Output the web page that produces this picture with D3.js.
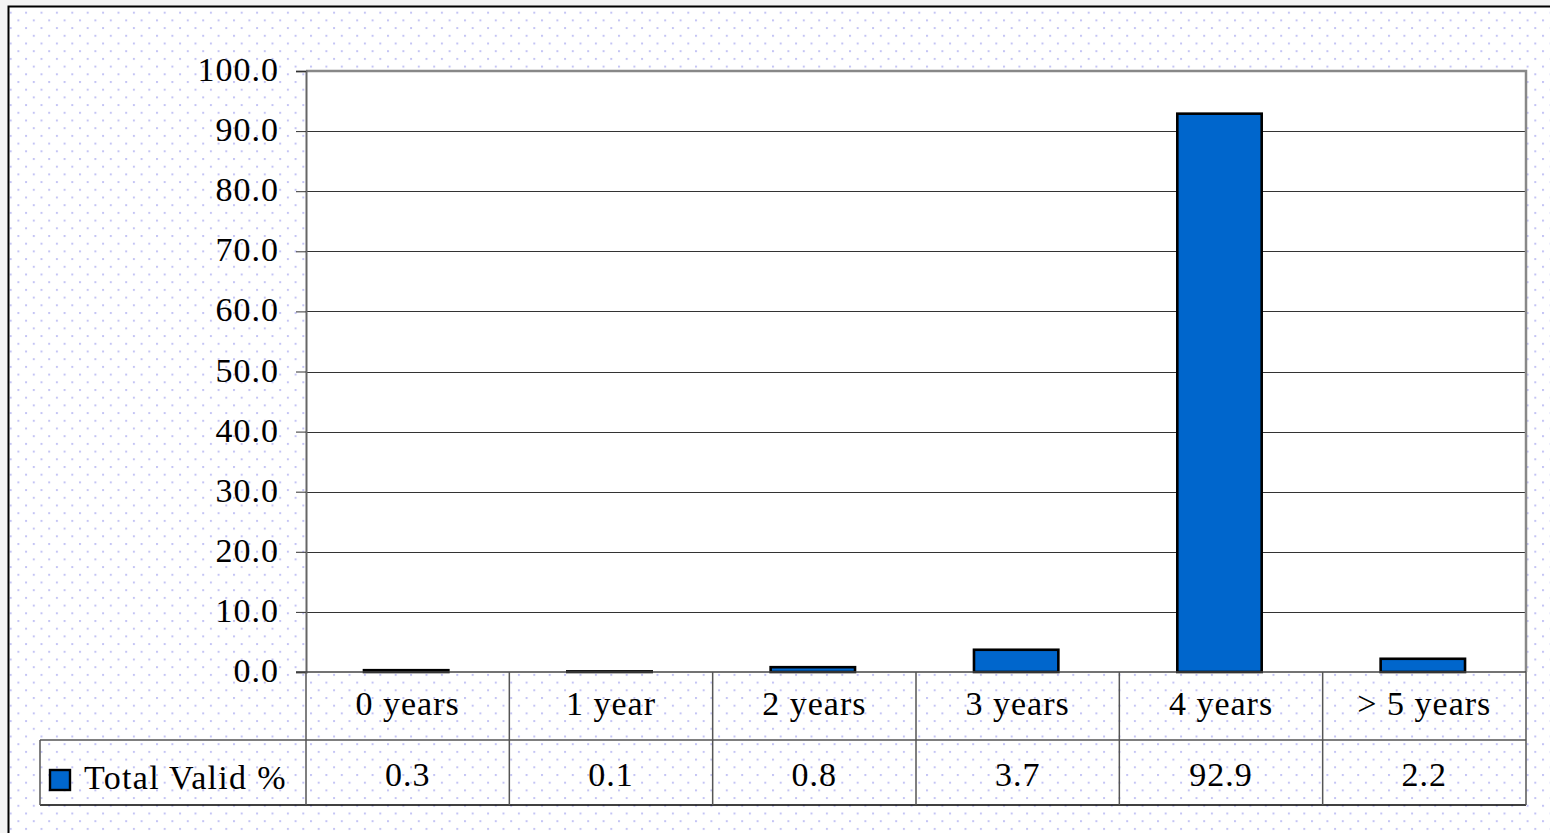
<!DOCTYPE html>
<html>
<head>
<meta charset="utf-8">
<script src="https://cdn.jsdelivr.net/npm/d3@7"></script>
<style>
  html, body { margin: 0; padding: 0; background: #f4f4f4; }
  svg { display: block; }
  text { font-family: "Liberation Serif", "Times New Roman", serif; fill: #000; }
</style>
</head>
<body>
<svg id="chart" width="1550" height="833"></svg>
<script>
const categories = ["0 years", "1 year", "2 years", "3 years", "4 years", "> 5 years"];
const values = [0.3, 0.1, 0.8, 3.7, 92.9, 2.2];
const seriesName = "Total Valid %";
const yTicks = [0, 10, 20, 30, 40, 50, 60, 70, 80, 90, 100];

const svg = d3.select("#chart");
const W = 1550, H = 833;
const plot = { left: 306, top: 71, right: 1526, bottom: 672 };
const rowVal = { top: 740, bottom: 805 };
const legendLeft = 40;

// background pattern
const defs = svg.append("defs");
const pat = defs.append("pattern").attr("id", "dots")
  .attr("patternUnits", "userSpaceOnUse")
  .attr("width", 15.4).attr("height", 15.4)
  .attr("x", 2).attr("y", 4);
pat.append("rect").attr("x", 0).attr("y", 0).attr("width", 2).attr("height", 2).attr("fill", "#c4c4f4");
pat.append("rect").attr("x", 7.7).attr("y", 7.7).attr("width", 2).attr("height", 2).attr("fill", "#c4c4f4");

svg.append("rect").attr("width", W).attr("height", H).attr("fill", "#f4f4f4");
svg.append("rect").attr("x", 8).attr("y", 6).attr("width", W).attr("height", H).attr("fill", "#ffffff");
svg.append("rect").attr("x", 8).attr("y", 6).attr("width", W).attr("height", H).attr("fill", "url(#dots)");
svg.append("path").attr("d", `M8.5,${H} V6.5 H${W}`).attr("fill", "none").attr("stroke", "#000").attr("stroke-width", 2);

const x = d3.scaleBand().domain(categories).range([plot.left, plot.right]).padding(0);
const y = d3.scaleLinear().domain([0, 100]).range([plot.bottom, plot.top]);

// plot area
svg.append("rect").attr("x", plot.left).attr("y", plot.top)
  .attr("width", plot.right - plot.left).attr("height", plot.bottom - plot.top)
  .attr("fill", "#fff");

// gridlines
svg.append("g").selectAll("line").data(yTicks.filter(d => d > 0 && d < 100)).join("line")
  .attr("x1", plot.left).attr("x2", plot.right)
  .attr("y1", d => Math.round(y(d)) + 0.5).attr("y2", d => Math.round(y(d)) + 0.5)
  .attr("stroke", "#333").attr("stroke-width", 1);

// plot border top & right
svg.append("path")
  .attr("d", `M${plot.left},${plot.top} H${plot.right} V${plot.bottom}`)
  .attr("fill", "none").attr("stroke", "#888").attr("stroke-width", 2.5);

// y axis
const yAxis = d3.axisLeft(y).tickValues(yTicks).tickFormat(d3.format(".1f")).tickSize(10).tickPadding(17);
const gy = svg.append("g").attr("transform", `translate(${plot.left},0)`).call(yAxis);
gy.select(".domain").attr("stroke", "#666").attr("stroke-width", 2);
gy.selectAll(".tick line").attr("stroke", "#333").attr("stroke-width", 1);
gy.selectAll(".tick text")
  .style("font-family", '"Liberation Serif", serif')
  .style("font-size", "34px").style("letter-spacing", "1px")
  .attr("fill", "#000").attr("dy", "0.28em");

// bars
const barW = x.bandwidth() * 0.415;
svg.append("g").selectAll("rect").data(values).join("rect")
  .attr("x", (d, i) => x(categories[i]) + (x.bandwidth() - barW) / 2 - 1.5)
  .attr("y", d => y(d))
  .attr("width", barW)
  .attr("height", d => y(0) - y(d))
  .attr("fill", "#0066cc")
  .attr("stroke", "#000").attr("stroke-width", 2.6);

// baseline
svg.append("line").attr("x1", plot.left - 10).attr("x2", plot.right)
  .attr("y1", plot.bottom).attr("y2", plot.bottom)
  .attr("stroke", "#444").attr("stroke-width", 1.5);

// data table
const tg = svg.append("g");
const lineCol = "#555";
tg.append("line").attr("x1", legendLeft).attr("x2", plot.right).attr("y1", rowVal.top).attr("y2", rowVal.top)
  .attr("stroke", lineCol).attr("stroke-width", 1.5);
tg.append("line").attr("x1", legendLeft).attr("x2", plot.right).attr("y1", rowVal.bottom).attr("y2", rowVal.bottom)
  .attr("stroke", "#000").attr("stroke-width", 1.5);
tg.append("line").attr("x1", legendLeft).attr("x2", legendLeft).attr("y1", rowVal.top).attr("y2", rowVal.bottom)
  .attr("stroke", lineCol).attr("stroke-width", 1.5);
tg.selectAll("line.col").data(categories.concat(["__end"])).join("line").attr("class", "col")
  .attr("x1", (d, i) => i < categories.length ? x(d) : plot.right)
  .attr("x2", (d, i) => i < categories.length ? x(d) : plot.right)
  .attr("y1", plot.bottom).attr("y2", rowVal.bottom)
  .attr("stroke", lineCol).attr("stroke-width", 1.5);

// category labels
tg.selectAll("text.cat").data(categories).join("text").attr("class", "cat")
  .attr("x", d => x(d) + x.bandwidth() / 2).attr("y", 715)
  .attr("text-anchor", "middle")
  .style("font-size", "34px").style("letter-spacing", "1px")
  .text(d => d);

// value labels
tg.selectAll("text.val").data(values).join("text").attr("class", "val")
  .attr("x", (d, i) => x(categories[i]) + x.bandwidth() / 2).attr("y", 786)
  .attr("text-anchor", "middle")
  .style("font-size", "34px").style("letter-spacing", "1px")
  .text(d => d3.format(".1f")(d));

// legend key
tg.append("rect").attr("x", 50).attr("y", 770).attr("width", 20).attr("height", 20)
  .attr("fill", "#0066cc").attr("stroke", "#000").attr("stroke-width", 2.4);
tg.append("text").attr("x", 84).attr("y", 789)
  .style("font-size", "34px").style("letter-spacing", "1.3px")
  .text(seriesName);
</script>
</body>
</html>
